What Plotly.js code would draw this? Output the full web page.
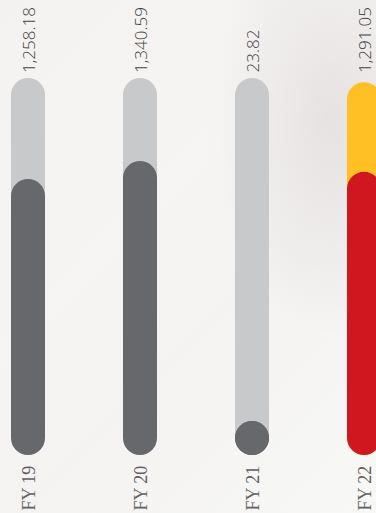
<!DOCTYPE html>
<html>
<head>
<meta charset="utf-8">
<script src="https://cdn.plot.ly/plotly-3.0.1.min.js"></script>
<style>
  html, body { margin: 0; padding: 0; }
  body {
    width: 376px; height: 513px; overflow: hidden;
    background:
      radial-gradient(ellipse 120px 220px at 330px 120px, rgba(228,224,224,0.9), rgba(228,224,224,0) 100%),
      linear-gradient(135deg, #f3f2f0 0%, #f6f5f3 40%, #f4f3f1 60%, #f8f8f6 100%);
  }
  #chart { width: 376px; height: 513px; }
</style>
</head>
<body>
<div id="chart"></div>
<script>
const categories = ["FY 19", "FY 20", "FY 21", "FY 22"];
const values = [1258.18, 1340.59, 23.82, 1291.05];
const valueLabels = ["1,258.18", "1,340.59", "23.82", "1,291.05"];
const trackTotals = [1719, 1719, 1719, 1700];
const trackColors = ["#c8c9cb", "#c8c9cb", "#c8c9cb", "#fec024"];
const fillColors = ["#67686c", "#67686c", "#67686c", "#d0161f"];

const W = 376, H = 513;
const mT = 78, mB = 58;
const plotH = H - mT - mB;
const yMax = 1719;
const barPx = 34;
const r = (barPx / 2) * yMax / plotH; // radius in data units

const traces = [];
function pill(i, top, color) {
  const lo = r;
  const hi = Math.max(top - r, r);
  traces.push({
    type: "scatter",
    mode: "lines+markers",
    x: [i, i],
    y: [lo, hi],
    line: { color: color, width: barPx },
    marker: { color: color, size: barPx, symbol: "circle", line: { width: 0 } },
    cliponaxis: false,
    hoverinfo: "skip",
    showlegend: false
  });
}
categories.forEach((c, i) => pill(i, trackTotals[i], trackColors[i]));
categories.forEach((c, i) => pill(i, values[i], fillColors[i]));

const annotations = [];
categories.forEach((c, i) => {
  annotations.push({
    x: i, xref: "x", y: 1, yref: "paper",
    text: valueLabels[i], textangle: -90,
    showarrow: false, xanchor: "center", yanchor: "bottom", yshift: 3,
    font: { family: "Open Sans", size: 17, color: "#444447", weight: 300 }
  });
  annotations.push({
    x: i, xref: "x", y: 0, yref: "paper",
    text: c, textangle: -90,
    showarrow: false, xanchor: "center", yanchor: "top", yshift: -9,
    font: { family: "Liberation Serif", size: 18, color: "#616164" }
  });
});

const layout = {
  width: W, height: H,
  margin: { l: 0, r: 0, t: mT, b: mB, pad: 0 },
  paper_bgcolor: "rgba(0,0,0,0)",
  plot_bgcolor: "rgba(0,0,0,0)",
  showlegend: false,
  xaxis: { range: [-28 / 112, (W - 28) / 112], visible: false, fixedrange: true },
  yaxis: { range: [0, yMax], visible: false, fixedrange: true },
  annotations: annotations
};

Plotly.newPlot("chart", traces, layout, { staticPlot: true, displayModeBar: false });
</script>
</body>
</html>
